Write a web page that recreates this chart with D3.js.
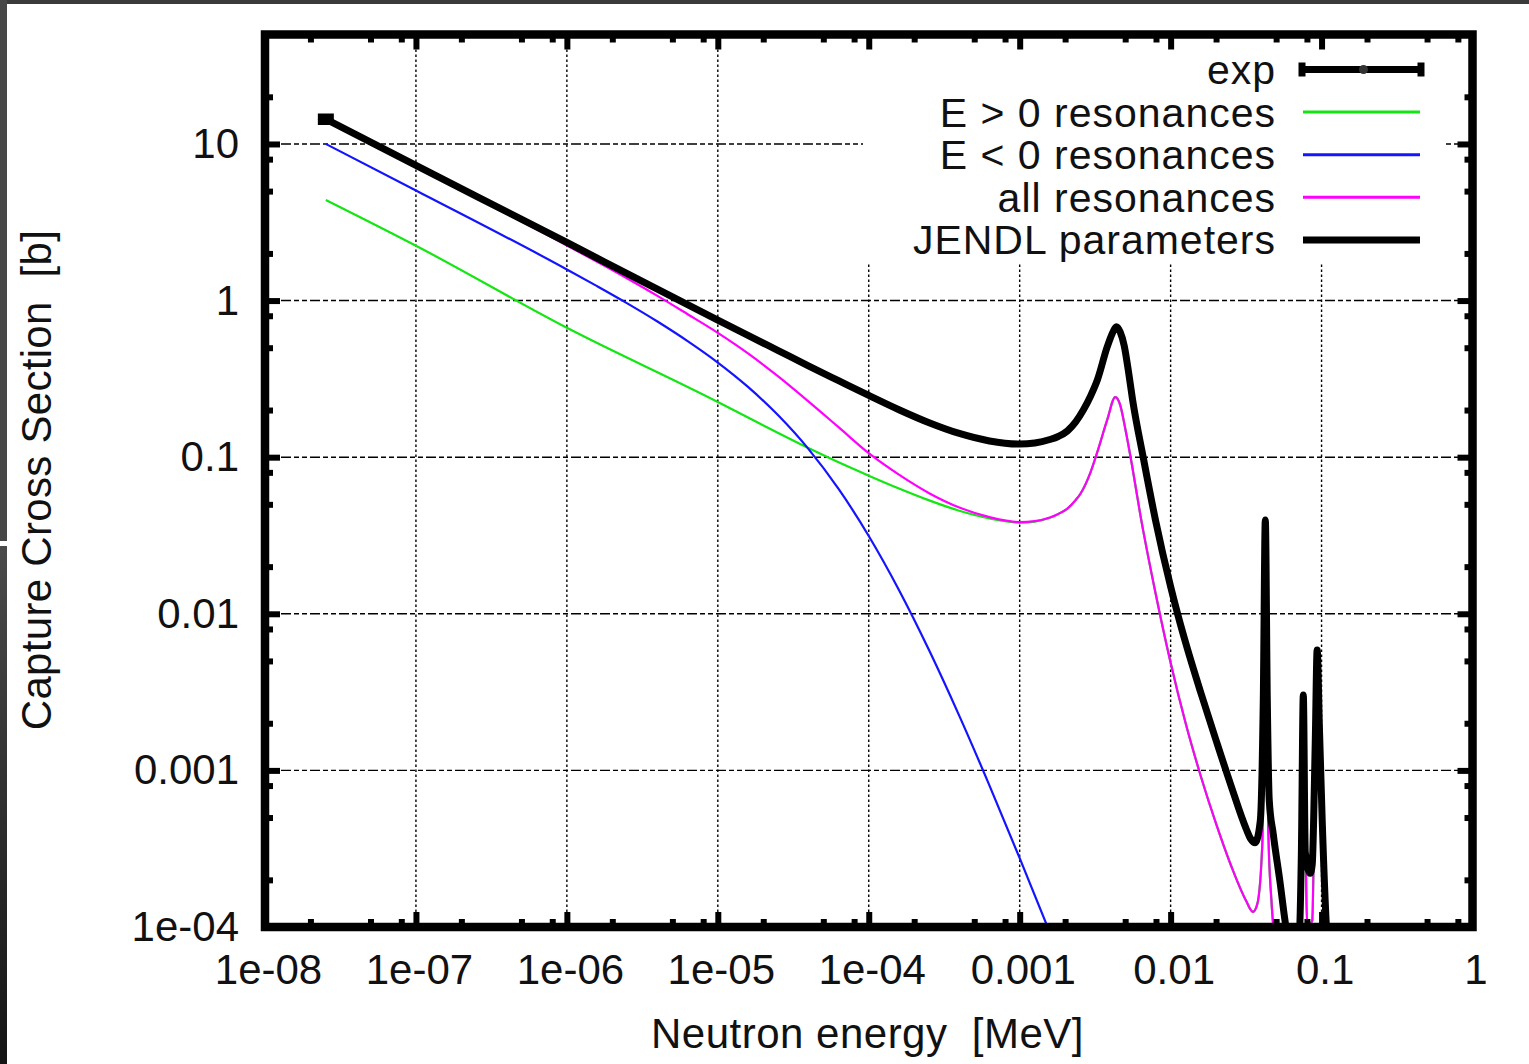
<!DOCTYPE html>
<html>
<head>
<meta charset="utf-8">
<title>Capture cross section</title>
<script src="https://cdn.jsdelivr.net/npm/d3@7"></script>
<style>
  html, body { margin: 0; padding: 0; background: #ffffff; }
  svg { display: block; }
  text { font-family: "Liberation Sans", Arial, Helvetica, sans-serif; fill: #111; white-space: pre; }
</style>
</head>
<body>
<svg id="chart" width="1529" height="1064"></svg>
<script>
// ---- axis ranges and tick labels ----
const xDomain = [1e-8, 1];
const yDomain = [1e-4, 50];
const xTickValues = [1e-8, 1e-7, 1e-6, 1e-5, 1e-4, 1e-3, 1e-2, 1e-1, 1];
const xTickLabels = ["1e-08", "1e-07", "1e-06", "1e-05", "1e-04", "0.001", "0.01", "0.1", "1"];
const yTickValues = [1e-4, 1e-3, 1e-2, 1e-1, 1, 10];
const yTickLabels = ["1e-04", "0.001", "0.01", "0.1", "1", "10"];
const minorMultipliers = [2, 5, 8];

const xTitle = "Neutron energy  [MeV]";
const yTitle = "Capture Cross Section  [b]";

// ---- series (energy in MeV, cross section in barn) ----
const seriesNames = ["exp", "E > 0 resonances", "E < 0 resonances", "all resonances", "JENDL parameters"];

// thermal measurement
const expEnergy = [2.53e-8];
const expSigma = [14.4];
const expError = [0.6];

// positive-energy resonances only
const posEnergy = [2.53e-8, 1e-7, 1e-6, 1e-5, 1.585e-5, 2.512e-5, 3.981e-5, 6.31e-5, 1e-4, 1.585e-4,
  2.512e-4, 3.981e-4, 6.31e-4, 1e-3, 1.259e-3, 1.585e-3, 1.8e-3, 2.07e-3, 2.35e-3, 2.52e-3,
  2.95e-3, 3.27e-3, 3.8e-3, 4.3e-3, 4.63e-3, 5.0e-3, 5.56e-3, 6.3e-3, 7.94e-3, 0.01,
  0.01259, 0.01585, 0.01995, 0.02512, 0.03162, 0.0351, 0.0375, 0.0405, 0.0424, 0.0444,
  0.0465, 0.0487, 0.0711, 0.0757, 0.0804, 0.0867, 0.0908, 0.0935, 0.0966, 0.1012,
  0.106];
const posSigma = [4.39, 2.24, 0.67, 0.225, 0.179, 0.1426, 0.1143, 0.0927, 0.0762, 0.0631,
  0.0530, 0.0455, 0.0406, 0.0382, 0.0388, 0.0410, 0.0433, 0.0469, 0.0532, 0.0581,
  0.0803, 0.108, 0.173, 0.242, 0.216, 0.153, 0.0878, 0.0428, 0.01358, 4.87e-3,
  1.99e-3, 9.18e-4, 4.6e-4, 2.47e-4, 1.47e-4, 1.25e-4, 1.4e-4, 3.4e-4, 0.035, 4e-4,
  1.5e-4, 9e-5, 5e-5, 2.9e-3, 1.0e-4, 1.1e-4, 1.4e-3, 5.5e-3, 1.8e-3, 3e-4,
  5e-5];

// negative-energy (bound) resonance only
const negEnergy = [2.53e-8, 1e-7, 1e-6, 1.585e-6, 2.512e-6, 3.981e-6, 6.31e-6, 1e-5, 1.585e-5, 2.512e-5,
  3.981e-5, 6.31e-5, 1e-4, 1.585e-4, 2.512e-4, 3.981e-4, 6.31e-4, 1e-3, 1.585e-3, 2.512e-3];
const negSigma = [10.0, 5.05, 1.58, 1.236, 0.960, 0.735, 0.551, 0.402, 0.281, 0.185,
  0.113, 0.0627, 0.0314, 0.0142, 5.85e-3, 2.23e-3, 8.0e-4, 2.75e-4, 9.2e-5, 3.0e-5];

// all resonances together
const allEnergy = [2.53e-8, 1e-7, 1e-6, 1.585e-6, 2.512e-6, 3.981e-6, 6.31e-6, 1e-5, 1.585e-5, 2.512e-5,
  3.981e-5, 6.31e-5, 1e-4, 1.585e-4, 2.512e-4, 3.981e-4, 6.31e-4, 1e-3, 1.259e-3, 1.585e-3,
  1.8e-3, 2.07e-3, 2.35e-3, 2.52e-3, 2.95e-3, 3.27e-3, 3.8e-3, 4.3e-3, 4.63e-3, 5.0e-3,
  5.56e-3, 6.3e-3, 7.94e-3, 0.01, 0.01259, 0.01585, 0.01995, 0.02512, 0.03162, 0.0351,
  0.0375, 0.0405, 0.0424, 0.0444, 0.0465, 0.0487, 0.0711, 0.0757, 0.0804, 0.0867,
  0.0908, 0.0935, 0.0966, 0.1012, 0.106];
const allSigma = [14.3, 7.2, 2.25, 1.768, 1.383, 1.071, 0.818, 0.622, 0.460, 0.328,
  0.2273, 0.1554, 0.106, 0.0773, 0.0589, 0.0477, 0.0414, 0.0385, 0.0391, 0.0412,
  0.0434, 0.0470, 0.0533, 0.0582, 0.0804, 0.108, 0.173, 0.242, 0.216, 0.153,
  0.0878, 0.0428, 0.01358, 4.87e-3, 1.99e-3, 9.18e-4, 4.6e-4, 2.47e-4, 1.47e-4, 1.25e-4,
  1.4e-4, 3.4e-4, 0.035, 4e-4, 1.5e-4, 9e-5, 5e-5, 2.9e-3, 1.0e-4, 1.1e-4,
  1.4e-3, 5.5e-3, 1.8e-3, 3e-4, 5e-5];

// evaluated (JENDL) resonance parameters
const jendlEnergy = [2.53e-8, 1e-7, 1e-6, 3e-6, 1e-5, 1.585e-5, 2.512e-5, 3.981e-5, 6.31e-5, 1e-4,
  1.585e-4, 2.512e-4, 3.981e-4, 6.31e-4, 1e-3, 1.259e-3, 1.585e-3, 1.8e-3, 2.07e-3, 2.35e-3,
  2.64e-3, 2.95e-3, 3.27e-3, 3.8e-3, 4.1e-3, 4.37e-3, 4.63e-3, 4.93e-3, 5.24e-3, 5.6e-3,
  6.58e-3, 7.94e-3, 0.01, 0.01122, 0.01259, 0.01585, 0.01995, 0.02512, 0.03162, 0.03388,
  0.03631, 0.0393, 0.0411, 0.0424, 0.0437, 0.0450, 0.0479, 0.0532, 0.0574, 0.0640,
  0.0702, 0.0735, 0.0757, 0.0780, 0.0841, 0.0867, 0.0908, 0.0935, 0.0966, 0.1012,
  0.1077, 0.1143];
const jendlSigma = [14.4, 7.3, 2.35, 1.36, 0.75, 0.599, 0.479, 0.383, 0.308, 0.248,
  0.201, 0.166, 0.1417, 0.1269, 0.1212, 0.1232, 0.1297, 0.1356, 0.147, 0.168,
  0.2, 0.246, 0.311, 0.506, 0.615, 0.68, 0.63, 0.513, 0.36, 0.232,
  0.1, 0.0396, 0.0149, 9.68e-3, 6.5e-3, 3.13e-3, 1.57e-3, 8.0e-4, 4.25e-4, 3.66e-4,
  3.45e-4, 4.8e-4, 2.8e-3, 0.0397, 2.8e-3, 6.5e-4, 3.9e-4, 1.9e-4, 1.08e-4, 6e-5,
  7e-5, 3e-4, 3.03e-3, 3e-4, 2.2e-4, 2.5e-4, 1.5e-3, 5.87e-3, 2.0e-3, 4.5e-4,
  1.0e-4, 5e-5];

const seriesColors = ["#000000", "#14e614", "#1414ff", "#ff00ff", "#000000"];

// ---- layout ----
const svg = d3.select("#chart");
const W = 1529, H = 1064;
const plot = { left: 265, right: 1472.5, top: 34.5, bottom: 927 };
const FONT = 42;

const x = d3.scaleLog().domain(xDomain).range([plot.left, plot.right]);
const y = d3.scaleLog().domain(yDomain).range([plot.bottom, plot.top]);

// page background and the dark rim along the top and left edges
svg.append("rect").attr("width", W).attr("height", H).attr("fill", "#ffffff");
const defs = svg.append("defs");
const rim = defs.append("linearGradient").attr("id", "rimGrad")
  .attr("x1", 0).attr("y1", 0).attr("x2", 0).attr("y2", 1);
rim.append("stop").attr("offset", "0%").attr("stop-color", "#4a4a4a");
rim.append("stop").attr("offset", "100%").attr("stop-color", "#141414");
svg.append("rect").attr("x", 0).attr("y", 0).attr("width", W).attr("height", 4).attr("fill", "#3b3b3b");
svg.append("rect").attr("x", 0).attr("y", 0).attr("width", 7).attr("height", 541).attr("fill", "#474747");
svg.append("rect").attr("x", 0).attr("y", 546).attr("width", 7).attr("height", H - 546).attr("fill", "url(#rimGrad)");

defs.append("clipPath").attr("id", "plotClip")
  .append("rect")
  .attr("x", plot.left).attr("y", plot.top)
  .attr("width", plot.right - plot.left).attr("height", plot.bottom - plot.top);

// ---- grid ----
const grid = svg.append("g").attr("stroke", "#000").attr("stroke-width", 1.4).attr("fill", "none");
grid.selectAll("line.vgrid")
  .data(xTickValues.filter(v => v > xDomain[0] && v < xDomain[1]))
  .join("line").attr("class", "vgrid")
  .attr("x1", d => x(d)).attr("x2", d => x(d))
  .attr("y1", plot.top).attr("y2", plot.bottom)
  .attr("stroke-dasharray", "2.5,2.5");
grid.selectAll("line.hgrid")
  .data(yTickValues.filter(v => v > yDomain[0] && v < yDomain[1]))
  .join("line").attr("class", "hgrid")
  .attr("x1", plot.left).attr("x2", plot.right)
  .attr("y1", d => y(d)).attr("y2", d => y(d))
  .attr("stroke-dasharray", "5,3,5,3,10,3");

// key background masks the grid behind the legend
const key = { left: 863, right: 1446, top: 39, bottom: 262 };
svg.append("rect")
  .attr("x", key.left).attr("y", key.top)
  .attr("width", key.right - key.left).attr("height", key.bottom - key.top)
  .attr("fill", "#ffffff");

// ---- curves ----
const pairs = (E, S) => E.map((e, i) => [e, S[i]]);
const line = d3.line().x(d => x(d[0])).y(d => y(d[1])).curve(d3.curveMonotoneX);
const curves = svg.append("g").attr("clip-path", "url(#plotClip)").attr("fill", "none");

const curveDefs = [
  { data: pairs(posEnergy, posSigma), color: seriesColors[1], width: 2.2 },
  { data: pairs(negEnergy, negSigma), color: seriesColors[2], width: 2.2 },
  { data: pairs(allEnergy, allSigma), color: seriesColors[3], width: 2.2 },
  { data: pairs(jendlEnergy, jendlSigma), color: seriesColors[4], width: 7 }
];
curves.selectAll("path.series")
  .data(curveDefs)
  .join("path").attr("class", "series")
  .attr("d", d => line(d.data))
  .attr("stroke", d => d.color)
  .attr("stroke-width", d => d.width)
  .attr("stroke-linejoin", "miter")
  .attr("stroke-linecap", "butt");

// measured point with error bar
const expData = expEnergy.map((e, i) => ({ e, s: expSigma[i], err: expError[i] }));
const expG = curves.append("g").attr("stroke", seriesColors[0]).attr("stroke-width", 6);
expData.forEach(d => {
  const cx = x(d.e), y0 = y(d.s - d.err), y1 = y(d.s + d.err), hw = 8;
  expG.append("line").attr("x1", cx).attr("x2", cx).attr("y1", y0).attr("y2", y1);
  expG.append("line").attr("x1", cx - hw).attr("x2", cx + hw).attr("y1", y0).attr("y2", y0);
  expG.append("line").attr("x1", cx - hw).attr("x2", cx + hw).attr("y1", y1).attr("y2", y1);
});

// ---- border and ticks ----
svg.append("rect")
  .attr("x", plot.left).attr("y", plot.top)
  .attr("width", plot.right - plot.left).attr("height", plot.bottom - plot.top)
  .attr("fill", "none").attr("stroke", "#000").attr("stroke-width", 8.5);

const minorOf = (decades, max) => decades.flatMap(d => minorMultipliers.map(m => m * d)).filter(v => v < max);
const xMinor = minorOf(xTickValues, xDomain[1]);
const yMinor = minorOf(yTickValues, yDomain[1]);

function styleAxis(g) {
  g.select(".domain").remove();
  g.attr("font-family", null).attr("font-size", null);
  g.selectAll(".tick line").attr("stroke", "#000").attr("stroke-width", 6);
  g.selectAll(".tick text").attr("font-size", FONT).attr("fill", "#111");
}

const MAJOR = 15, MINOR = 8;
svg.append("g").attr("transform", `translate(0,${plot.bottom})`)
  .call(d3.axisBottom(x).tickValues(xTickValues).tickFormat((d, i) => xTickLabels[i])
    .tickSizeInner(-MAJOR).tickSizeOuter(0).tickPadding(27))
  .call(styleAxis)
  .call(g => g.selectAll(".tick text").attr("dx", 3));
svg.append("g").attr("transform", `translate(0,${plot.bottom})`)
  .call(d3.axisBottom(x).tickValues(xMinor).tickFormat("").tickSizeInner(-MINOR).tickSizeOuter(0))
  .call(styleAxis);
svg.append("g").attr("transform", `translate(0,${plot.top})`)
  .call(d3.axisTop(x).tickValues(xTickValues).tickFormat("").tickSizeInner(-MAJOR).tickSizeOuter(0))
  .call(styleAxis);
svg.append("g").attr("transform", `translate(0,${plot.top})`)
  .call(d3.axisTop(x).tickValues(xMinor).tickFormat("").tickSizeInner(-MINOR).tickSizeOuter(0))
  .call(styleAxis);

svg.append("g").attr("transform", `translate(${plot.left},0)`)
  .call(d3.axisLeft(y).tickValues(yTickValues).tickFormat((d, i) => yTickLabels[i])
    .tickSizeInner(-MAJOR).tickSizeOuter(0).tickPadding(26))
  .call(styleAxis);
svg.append("g").attr("transform", `translate(${plot.left},0)`)
  .call(d3.axisLeft(y).tickValues(yMinor).tickFormat("").tickSizeInner(-MINOR).tickSizeOuter(0))
  .call(styleAxis);
svg.append("g").attr("transform", `translate(${plot.right},0)`)
  .call(d3.axisRight(y).tickValues(yTickValues).tickFormat("").tickSizeInner(-MAJOR).tickSizeOuter(0))
  .call(styleAxis);
svg.append("g").attr("transform", `translate(${plot.right},0)`)
  .call(d3.axisRight(y).tickValues(yMinor).tickFormat("").tickSizeInner(-MINOR).tickSizeOuter(0))
  .call(styleAxis);

// ---- axis titles ----
svg.append("text")
  .attr("x", 867.5).attr("y", 1048)
  .attr("text-anchor", "middle").attr("font-size", FONT)
  .attr("letter-spacing", 0.5)
  .text(xTitle);
svg.append("text")
  .attr("transform", "translate(51,480) rotate(-90)")
  .attr("text-anchor", "middle").attr("font-size", FONT)
  .attr("letter-spacing", 0.3)
  .text(yTitle);

// ---- legend ----
const LEGEND_FONT = 41;
const legendRows = [69.5, 112.1, 154.7, 197.3, 239.9];
const sample = { x1: 1303, x2: 1420 };
const legendStyle = [
  { color: seriesColors[0], width: 7, errorbar: true },
  { color: seriesColors[1], width: 3 },
  { color: seriesColors[2], width: 3 },
  { color: seriesColors[3], width: 3 },
  { color: seriesColors[4], width: 7 }
];
const legend = svg.append("g");
const rows = legend.selectAll("g.row")
  .data(seriesNames.map((name, i) => ({ name, cy: legendRows[i], ...legendStyle[i] })))
  .join("g").attr("class", "row");
rows.append("text")
  .attr("x", 1276).attr("y", d => d.cy + 14.5)
  .attr("text-anchor", "end").attr("font-size", LEGEND_FONT)
  .attr("letter-spacing", 1)
  .text(d => d.name);
rows.append("line")
  .attr("x1", sample.x1).attr("x2", sample.x2)
  .attr("y1", d => d.cy).attr("y2", d => d.cy)
  .attr("stroke", d => d.color).attr("stroke-width", d => d.width);
rows.filter(d => d.errorbar).each(function (d) {
  const g = d3.select(this);
  [sample.x1 - 1, sample.x2 + 1].forEach(cx => {
    g.append("line").attr("x1", cx).attr("x2", cx)
      .attr("y1", d.cy - 7).attr("y2", d.cy + 7)
      .attr("stroke", d.color).attr("stroke-width", 7);
  });
  g.append("circle").attr("cx", (sample.x1 + sample.x2) / 2 + 2).attr("cy", d.cy)
    .attr("r", 4.5).attr("fill", "#333");
});
</script>
</body>
</html>
